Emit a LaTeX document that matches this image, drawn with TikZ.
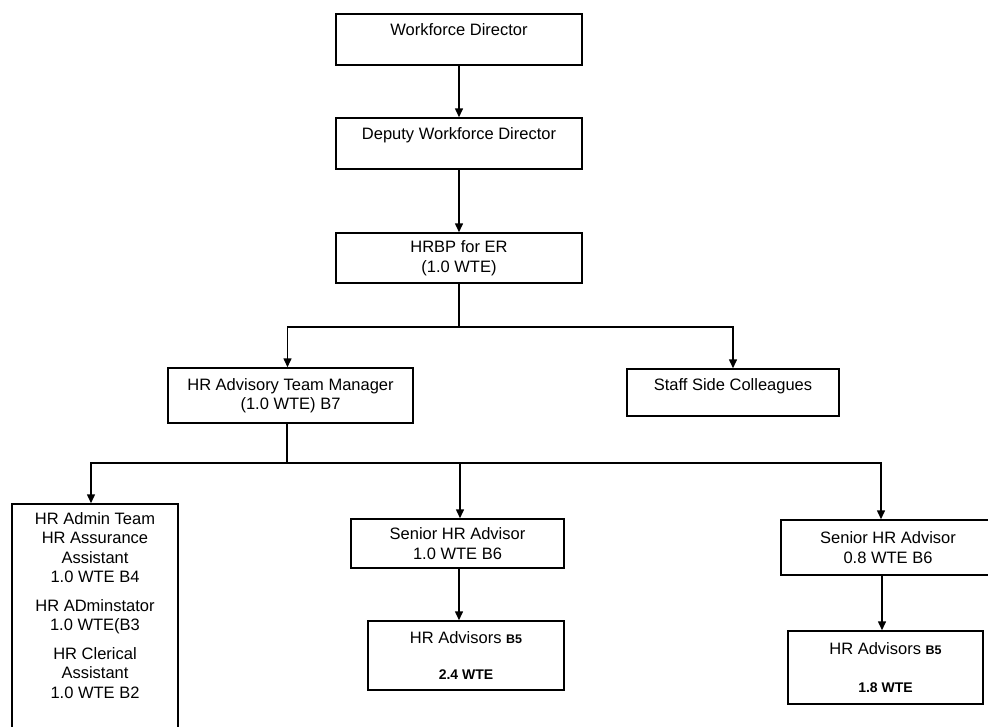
\documentclass[tikz,border=0pt]{standalone}
\usepackage{fontspec}
\setmainfont{Liberation Sans}
\usetikzlibrary{arrows.meta}

\begin{document}
\begin{tikzpicture}[x=1pt,y=-1pt,
  font=\fontsize{16.5}{19.5}\selectfont,
  post/.style={draw, line width=1.5pt, align=center, inner sep=0pt},
  link/.style={line width=1.5pt},
  arr/.style={line width=1.5pt, -{Triangle[width=8pt,length=9pt]}}]
\useasboundingbox (0,0) rectangle (988,726);

% top of the tree
\node[post, minimum width=246, minimum height=51] (wd)   at (459,39.5)  {Workforce Director\\\mbox{}};
\node[post, minimum width=246, minimum height=51] (dwd)  at (459,143.5) {Deputy Workforce Director\\\mbox{}};
\node[post, minimum width=246, minimum height=50] (hrbp) at (459,258)   {HRBP for ER\\(1.0 WTE)};

\node[post, minimum width=245, minimum height=55] (hratm) at (290.5,395.5) {HR Advisory Team Manager\\(1.0 WTE) B7};
\node[post, minimum width=212, minimum height=47] (staff) at (733,392.5)   {Staff Side Colleagues\\[-4pt]\mbox{}};

% bottom row
\node[post, minimum width=166, minimum height=232] (admin) at (95,620) {};
\node[anchor=north, align=center, inner sep=0pt] (admintxt) at ([yshift=-9pt]admin.north)
  {HR Admin Team\\HR Assurance\\Assistant\\1.0 WTE B4\\[9pt]HR ADminstator\\1.0 WTE(B3\\[9pt]HR Clerical\\Assistant\\1.0 WTE B2};

\node[post, minimum width=213, minimum height=49] (shra1) at (457.5,543.5) {Senior HR Advisor\\1.0 WTE B6};
\node[post, minimum width=196, minimum height=69] (hra1)  at (466,655.5)
  {HR Advisors {\fontsize{12.5}{14}\selectfont\bfseries B5}\\[16pt]{\fontsize{14}{16}\selectfont\bfseries 2.4 WTE}};

\node[post, minimum width=214, minimum height=55] (shra2) at (888,547.5) {Senior HR Advisor\\0.8 WTE B6};
\node[post, minimum width=195, minimum height=73] (hra2)  at (885.5,667.5)
  {HR Advisors {\fontsize{12.5}{14}\selectfont\bfseries B5}\\[18pt]{\fontsize{14}{16}\selectfont\bfseries 1.8 WTE}};

% connectors
\coordinate (j1) at (459,327);
\coordinate (j2) at (287,463);
\draw[arr] (wd) -- (dwd);
\draw[arr] (dwd) -- (hrbp);
\draw[link] (hrbp) -- (j1);
\draw[arr] (j1) -| ([xshift=-3pt]hratm.north);
\draw[arr] (j1) -| (staff);
\draw[link] (j2 |- hratm.south) -- (j2);
\draw[arr] (j2) -| ([xshift=-4pt]admin.north);
\draw[arr] (j2) -| ([xshift=2.5pt]shra1.north);
\draw[arr] (j2) -| ([xshift=-7pt]shra2.north);
\draw[arr] ([xshift=1.5pt]shra1.south) -- ([xshift=1.5pt]shra1.south |- hra1.north);
\draw[arr] ([xshift=-6pt]shra2.south) -- ([xshift=-6pt]shra2.south |- hra2.north);
\end{tikzpicture}
\end{document}
